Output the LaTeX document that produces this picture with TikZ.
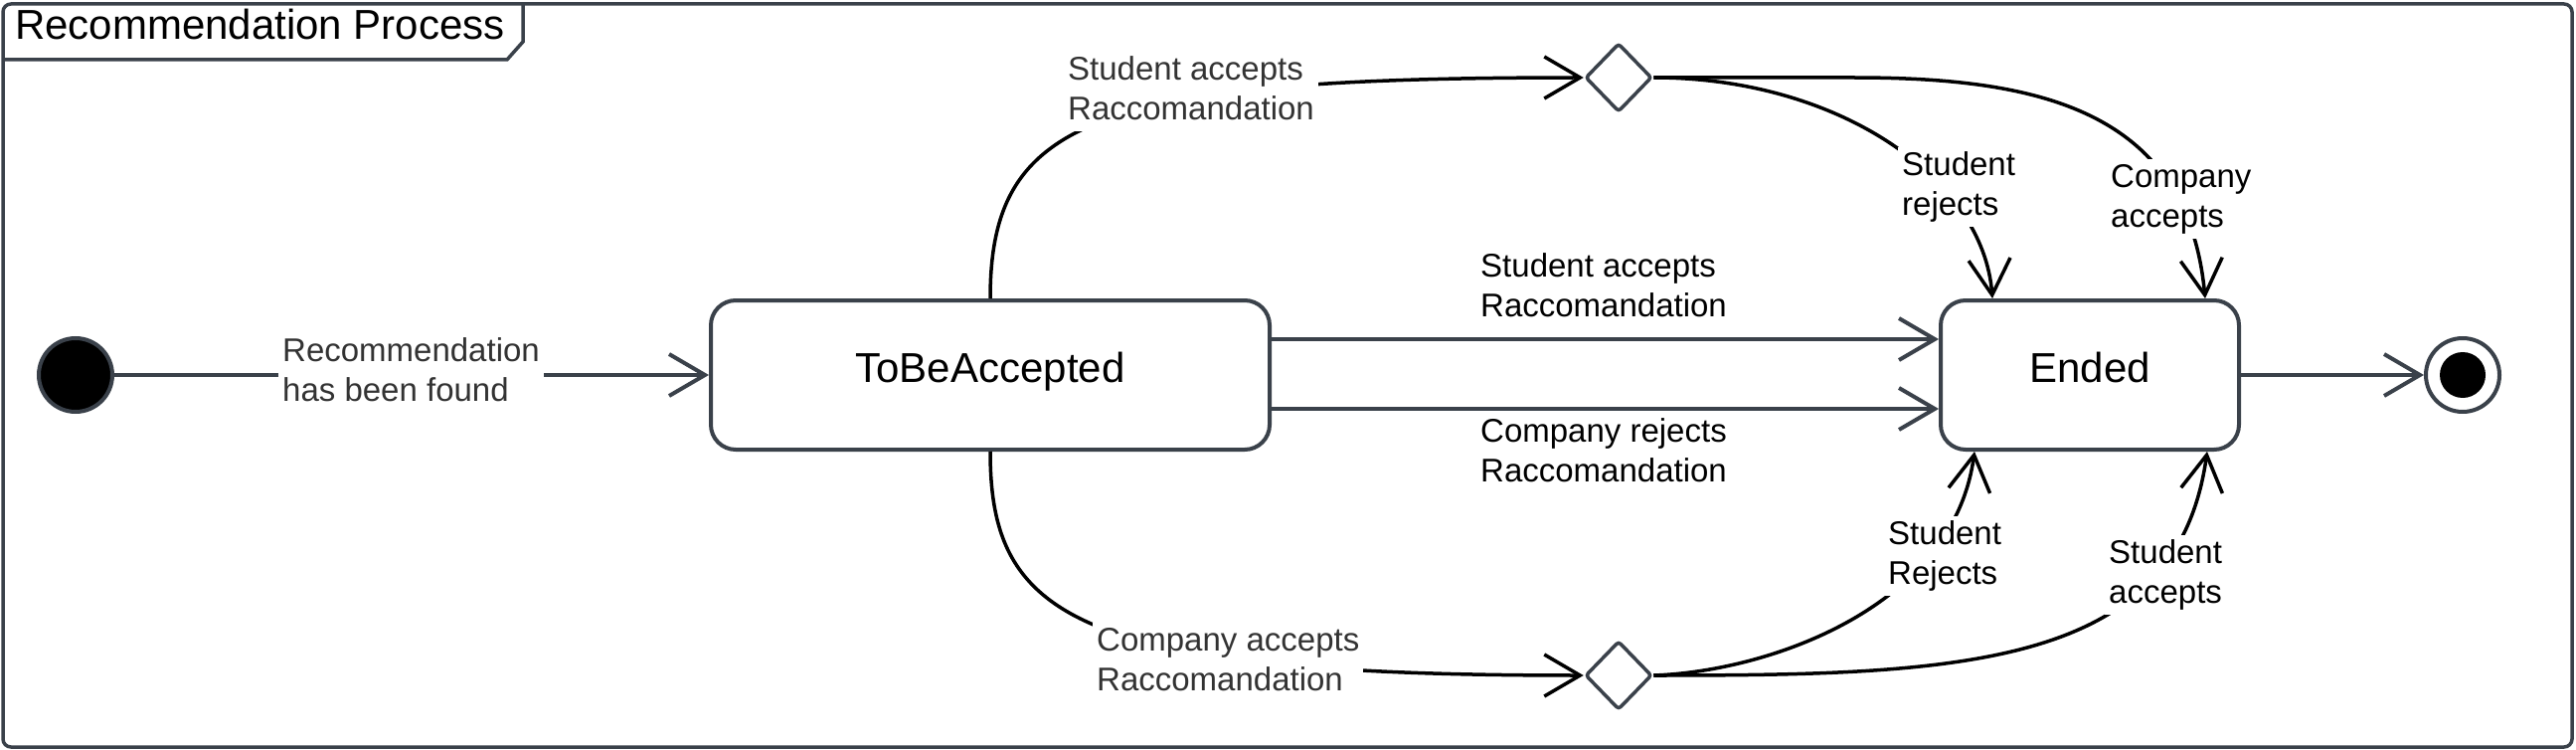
\documentclass[tikz,border=0pt]{standalone}
\usepackage{fontspec}
\setmainfont{Liberation Sans}
\usetikzlibrary{arrows.meta,shapes.geometric}
\definecolor{slate}{HTML}{3A414A}
\definecolor{lblgray}{HTML}{333333}
\begin{document}
\begin{tikzpicture}[x=1pt,y=-1pt,
  statebox/.style={draw=slate, line width=4pt, rounded corners=25pt, fill=white, minimum height=150pt,
    font=\fontsize{42}{50}\selectfont, text height=29pt, text depth=15pt, inner sep=0pt},
  choice/.style={diamond, draw=slate, line width=3.5pt, fill=white, minimum width=67pt, minimum height=69pt,
    inner sep=0pt, rounded corners=3pt},
  conn/.style={draw=slate, line width=4pt, -{Straight Barb[length=36pt,width=42pt]}},
  curv/.style={draw=black, line width=3.5pt, -{Straight Barb[length=36pt,width=42pt]}},
  lbl/.style={font=\fontsize{33}{40}\selectfont, align=left, fill=white, inner xsep=4pt, inner ysep=0pt, anchor=north west},
]
\useasboundingbox (0,0) rectangle (2591,754);
% frame
\draw[slate, line width=3.5pt, rounded corners=8pt] (3,4) rectangle (2587,751);
\draw[slate, line width=3.5pt] (3,60) -- (510,60) -- (526,42) -- (526,4);
\node[anchor=base west, inner sep=0pt, font=\fontsize{42}{50}\selectfont] (title) at (15,40) {Recommendation Process};
% nodes
\node[circle, fill=black, draw=slate, line width=4pt, minimum size=74pt, inner sep=0pt] (init) at (76,377) {};
\node[statebox, minimum width=562pt] (tba) at (996,377) {ToBeAccepted};
\node[statebox, minimum width=300pt] (ended) at (2102,377) {Ended};
\node[choice] (d1) at (1628,78) {};
\node[choice] (d2) at (1628,679) {};
\node[circle, draw=slate, line width=4pt, fill=white, minimum size=74pt, inner sep=0pt] (final) at (2477,377) {};
\node[circle, fill=black, minimum size=46pt, inner sep=0pt] (finalin) at (final) {};
% straight connectors
\draw[conn] (init.east) -- (tba.west);
\draw[conn] ([yshift=36pt]tba.east) -- ([yshift=36pt]ended.west);
\draw[conn] ([yshift=-34pt]tba.east) -- ([yshift=-34pt]ended.west);
\draw[conn] (ended.east) -- (final.west);
% curved connectors
\draw[curv] (tba.north) .. controls (996,120) and (1100,78) .. (d1.west);
\draw[curv] (tba.south) .. controls (996,620) and (1080,679) .. (d2.west);
\draw[curv] (d1.east) .. controls (1850,78) and (1995,180) .. ([xshift=-98pt]ended.north);
\draw[curv] (d1.east) -- (1864,78) .. controls (2050,78) and (2200,110) .. ([xshift=116pt]ended.north);
\draw[curv] (d2.east) .. controls (1780,675) and (1965,610) .. ([xshift=-116pt]ended.south);
\draw[curv] (d2.east) .. controls (1980,679) and (2190,670) .. ([xshift=118pt]ended.south);
% labels
\node[lbl, text=lblgray] (l1) at (280,335) {\strut Recommendation\\has been found\strut};
\node[lbl, text=lblgray] (l2) at (1070,52) {\strut Student accepts\\Raccomandation\strut};
\node[lbl] (l3) at (1485,250) {\strut Student accepts\\Raccomandation\strut};
\node[lbl] (l4) at (1485,416) {\strut Company rejects\\Raccomandation\strut};
\node[lbl, text=lblgray] (l5) at (1099,626) {\strut Company accepts\\Raccomandation\strut};
\node[lbl] (l6) at (1909,148) {\strut Student\\rejects\strut};
\node[lbl] (l7) at (2119,160) {\strut Company\\accepts\strut};
\node[lbl] (l8) at (1895,519) {\strut Student\\Rejects\strut};
\node[lbl] (l9) at (2117,538) {\strut Student\\accepts\strut};
\end{tikzpicture}
\end{document}
